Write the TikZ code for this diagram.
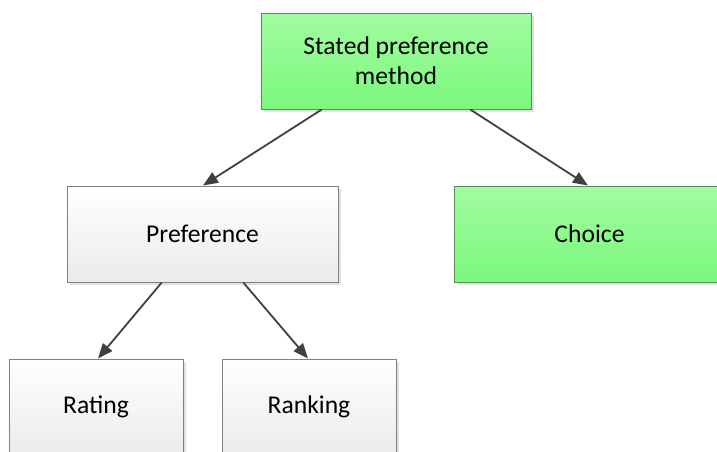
\documentclass[tikz,border=0pt]{standalone}
\usepackage{fontspec}
\setmainfont{Carlito}
\usetikzlibrary{arrows.meta,shadows,calc}
\definecolor{gtop}{RGB}{160,252,160}
\definecolor{gbot}{RGB}{124,248,124}
\definecolor{gborder}{RGB}{88,140,88}
\definecolor{wborder}{RGB}{128,128,128}
\definecolor{wbot}{RGB}{235,235,235}
\definecolor{arrowc}{RGB}{64,64,64}
\definecolor{shadowc}{RGB}{225,225,225}
\tikzset{
  box/.style={rectangle, draw, line width=1pt, align=center,
    font=\fontsize{25.6}{30}\selectfont, text=black,
    drop shadow={shadow xshift=3pt, shadow yshift=-3pt, fill=shadowc, opacity=1}},
  greenbox/.style={box, draw=gborder, top color=gtop, bottom color=gbot},
  whitebox/.style={box, draw=wborder, top color=white, bottom color=wbot},
  conn/.style={draw=arrowc, line width=1.8pt, -{Triangle[length=15pt,width=12pt]}},
}
\begin{document}
\begin{tikzpicture}[x=1pt,y=-1pt]
\useasboundingbox (0,0) rectangle (717,451);
\clip (0,0) rectangle (717,451);
\node[greenbox, minimum width=270pt, minimum height=96pt] (spm) at (396,61) {Stated preference\\method};
\node[greenbox, minimum width=271pt, minimum height=96pt] (choice) at (589.5,234) {Choice};
\node[whitebox, minimum width=271pt, minimum height=96pt] (pref) at (202.5,234) {Preference};
\node[whitebox, minimum width=174pt, minimum height=96pt] (rating) at (96,407) {Rating};
\node[whitebox, minimum width=174pt, minimum height=96pt] (ranking) at (309,407) {Ranking};
\draw[conn] ($(spm.south west)!0.226!(spm.south east)$) -- ($(pref.north)+(0.5,0)$);
\draw[conn] ($(spm.south west)!0.774!(spm.south east)$) -- ($(choice.north)+(-1.5,0)$);
\draw[conn] ($(pref.south west)!0.35!(pref.south east)$) -- ($(rating.north)+(2,0)$);
\draw[conn] ($(pref.south west)!0.65!(pref.south east)$) -- ($(ranking.north)+(-1,0)$);
\end{tikzpicture}
\end{document}
